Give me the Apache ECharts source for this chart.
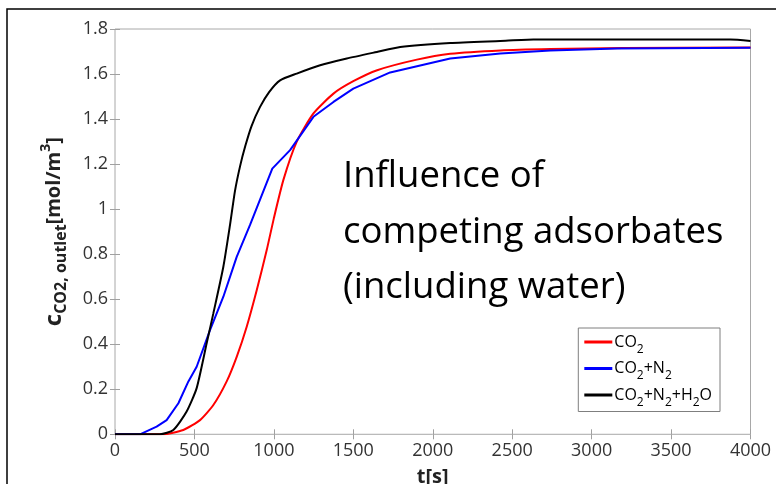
<!DOCTYPE html>
<html>
<head>
<meta charset="utf-8">
<script src="https://cdn.jsdelivr.net/npm/echarts@6/dist/echarts.min.js"></script>
<style>
  html, body { margin: 0; padding: 0; background: #fff; }
  #main { width: 776px; height: 484px; }
</style>
</head>
<body>
<div id="main"></div>
<script>
// breakthrough curves, [t (s), c (mol/m3)]
const co2 = [
  [0, 0], [300, 0], [430, 0.019], [535, 0.063], [619, 0.13], [703, 0.235],
  [766, 0.344], [829, 0.478], [892, 0.64], [955, 0.818], [1000, 0.96],
  [1060, 1.13], [1144, 1.3], [1249, 1.425], [1375, 1.513], [1500, 1.568],
  [1650, 1.617], [1900, 1.664], [2110, 1.69], [2425, 1.705], [2740, 1.711],
  [3200, 1.716], [4000, 1.718]
];
const co2N2 = [
  [0, 0], [157, 0], [262, 0.034], [325, 0.063], [399, 0.138], [462, 0.235],
  [514, 0.3], [598, 0.463], [682, 0.611], [766, 0.788], [850, 0.93],
  [990, 1.18], [1102, 1.262], [1249, 1.41], [1375, 1.476], [1500, 1.535],
  [1732, 1.607], [2110, 1.669], [2425, 1.691], [2740, 1.705], [3160, 1.713],
  [4000, 1.717]
];
const co2N2H2O = [
  [0, 0], [283, 0], [367, 0.019], [450, 0.1], [514, 0.205], [577, 0.404],
  [619, 0.537], [682, 0.744], [724, 0.93], [755, 1.08], [787, 1.19],
  [820, 1.28], [860, 1.37], [913, 1.454], [970, 1.52], [1039, 1.572],
  [1144, 1.602], [1291, 1.639], [1459, 1.669], [1648, 1.698], [1795, 1.72],
  [2110, 1.738], [2425, 1.747], [2633, 1.753], [3874, 1.753], [4000, 1.747]
];
const seriesNames = ['CO2', 'CO2+N2', 'CO2+N2+H2O'];
const legendLabels = {
  'CO2': '{n|CO}{s|2}',
  'CO2+N2': '{n|CO}{s|2}{n|+N}{s|2}',
  'CO2+N2+H2O': '{n|CO}{s|2}{n|+N}{s|2}{n|+H}{s|2}{n|O}'
};
const noteLines = ['Influence of', 'competing adsorbates', '(including water)'];

const FONT = '"Open Sans", "Noto Sans", sans-serif';
const myChart = echarts.init(document.getElementById('main'));

const tickStyle = { show: true, inside: true, length: 5, lineStyle: { color: '#a0a0a0' } };

const option = {
  animation: false,
  backgroundColor: '#fff',
  textStyle: { fontFamily: FONT },
  grid: {
    left: 115, top: 29, right: 25.5, bottom: 49.7,
    containLabel: false, outerBoundsMode: 'none',
    show: true, borderColor: '#a8a8a8', borderWidth: 1
  },
  legend: {
    data: seriesNames,
    orient: 'vertical',
    right: 56,
    top: 328,
    padding: [6, 8, 3, 6],
    itemGap: 5,
    itemWidth: 28,
    itemHeight: 3,
    icon: 'rect',
    backgroundColor: '#fff',
    borderColor: '#7f7f7f',
    borderWidth: 1,
    borderRadius: 0,
    formatter: (name) => legendLabels[name],
    textStyle: {
      color: '#000', fontFamily: FONT, fontSize: 16, padding: [0, 0, 0, -3],
      rich: {
        n: { fontSize: 16, fontFamily: FONT, color: '#000', lineHeight: 27 },
        s: { fontSize: 12, fontFamily: FONT, color: '#000', verticalAlign: 'bottom', lineHeight: 12 }
      }
    }
  },
  xAxis: [
    {
      type: 'value', min: 0, max: 4000, interval: 500,
      name: 't[s]', nameLocation: 'middle', nameGap: 33,
      nameTextStyle: { fontSize: 20, fontWeight: 'bold', color: '#222', fontFamily: FONT },
      axisLine: { show: false },
      axisTick: tickStyle,
      splitLine: { show: false },
      axisLabel: { color: '#333', fontSize: 18, margin: 8, fontFamily: FONT, formatter: (v) => String(v) }
    },
    {
      type: 'value', position: 'top', min: 0, max: 4000, interval: 500,
      axisLine: { show: false }, axisTick: tickStyle,
      splitLine: { show: false }, axisLabel: { show: false }
    }
  ],
  yAxis: [
    {
      type: 'value', min: 0, max: 1.8, interval: 0.2,
      name: '{c|c}{s|CO2, outlet}{m|[mol/m}{p|3}{m|]}',
      nameLocation: 'middle', nameRotate: 90, nameGap: 46,
      nameTextStyle: {
        color: '#222', fontFamily: FONT,
        rich: {
          c: { fontSize: 24, fontWeight: 'bold', color: '#222', fontFamily: FONT, lineHeight: 30 },
          s: { fontSize: 16, fontWeight: 'bold', color: '#222', fontFamily: FONT, verticalAlign: 'bottom', lineHeight: 16 },
          m: { fontSize: 20, fontWeight: 'bold', color: '#222', fontFamily: FONT, lineHeight: 30 },
          p: { fontSize: 14, fontWeight: 'bold', color: '#222', fontFamily: FONT, verticalAlign: 'top', lineHeight: 14 }
        }
      },
      axisLine: { show: false },
      axisTick: tickStyle,
      splitLine: { show: false },
      axisLabel: { color: '#333', fontSize: 18, margin: 7, fontFamily: FONT }
    },
    {
      type: 'value', position: 'right', min: 0, max: 1.8, interval: 0.2,
      axisLine: { show: false }, axisTick: tickStyle,
      splitLine: { show: false }, axisLabel: { show: false }
    }
  ],
  series: [
    {
      name: seriesNames[0], type: 'line', data: co2, showSymbol: false,
      smooth: 0.2, color: '#ff0000',
      lineStyle: { width: 2, color: '#ff0000' }
    },
    {
      name: seriesNames[1], type: 'line', data: co2N2, showSymbol: false,
      smooth: false, color: '#0000ff',
      lineStyle: { width: 2, color: '#0000ff' }
    },
    {
      name: seriesNames[2], type: 'line', data: co2N2H2O, showSymbol: false,
      smooth: 0.2, color: '#000000',
      lineStyle: { width: 2, color: '#000000' }
    }
  ],
  graphic: [
    // slide frame
    {
      type: 'rect', silent: true, z: 0,
      shape: { x: 7, y: 9, width: 800, height: 500 },
      style: { fill: 'none', stroke: '#000', lineWidth: 1.5 }
    }
  ].concat(noteLines.map((t, i) => ({
    type: 'text', silent: true, z: 100,
    x: 343, y: 177 + i * 55.5,
    style: {
      text: t, fill: '#000', font: '36.5px ' + FONT,
      textAlign: 'left', textVerticalAlign: 'middle'
    }
  })))
};

myChart.setOption(option);
</script>
</body>
</html>
